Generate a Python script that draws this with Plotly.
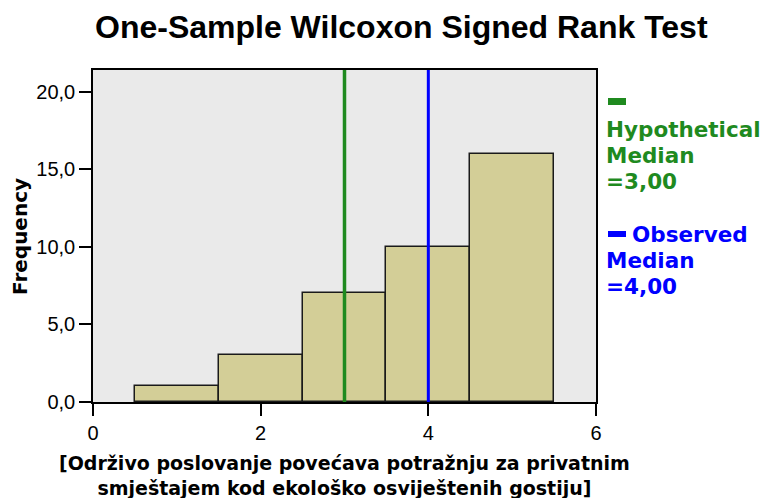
import plotly.graph_objects as go

# ---- data ----
bin_centers = [1, 2, 3, 4, 5]
frequencies = [1, 3, 7, 10, 16]
hypothetical_median = 3.00
observed_median = 4.00
y_ticks = [0, 5, 10, 15, 20]
y_tick_labels = ["0,0", "5,0", "10,0", "15,0", "20,0"]
x_ticks = [0, 2, 4, 6]
x_tick_labels = ["0", "2", "4", "6"]
title_text = "One-Sample Wilcoxon Signed Rank Test"
x_title = "[Održivo poslovanje povećava potražnju za privatnim<br>smještajem kod ekološko osviještenih gostiju]"
y_title = "Frequency"

W, H = 765, 498
L, R, T, B = 93, 169, 70, 96
Y_MAX = 21.4

def py(pix):  # pixel y -> paper y
    return (H - B - pix) / (H - T - B)

def px(pix):  # pixel x -> paper x
    return (pix - L) / (W - L - R)

GREEN = "#1F8A1F"
BLUE = "#0000FF"
BAR = "#D3CE97"

fig = go.Figure()
fig.add_trace(go.Bar(x=bin_centers, y=frequencies, width=1,
                     marker=dict(color=BAR, line=dict(color="#1a1a1a", width=1.5)),
                     showlegend=False, hoverinfo="x+y"))
fig.add_trace(go.Scatter(x=[hypothetical_median, hypothetical_median], y=[0, Y_MAX],
                         mode="lines", line=dict(color=GREEN, width=3.5), showlegend=False))
fig.add_trace(go.Scatter(x=[observed_median, observed_median], y=[0, Y_MAX],
                         mode="lines", line=dict(color=BLUE, width=3), showlegend=False))

fig.update_layout(
    width=W, height=H,
    margin=dict(l=L, r=R, t=T, b=B),
    paper_bgcolor="white", plot_bgcolor="#EAEAEA",
    font=dict(family="Liberation Sans, Arial, sans-serif", color="black"),
    xaxis=dict(range=[0, 6], tickvals=x_ticks, ticktext=x_tick_labels,
               showgrid=False, zeroline=False, showline=True, mirror=True,
               linecolor="black", linewidth=1.5, ticks="outside", ticklen=12,
               tickwidth=1.5, tickcolor="black",
               tickfont=dict(size=20, family="Liberation Sans, Arial, sans-serif")),
    yaxis=dict(range=[0, Y_MAX], tickvals=y_ticks, ticktext=y_tick_labels,
               showgrid=False, zeroline=False, showline=True, mirror=True,
               linecolor="black", linewidth=1.5, ticks="outside", ticklen=12,
               tickwidth=1.5, tickcolor="black",
               tickfont=dict(size=20, family="Liberation Sans, Arial, sans-serif")),
    bargap=0,
)

ann = []
ann.append(dict(text="<b>" + title_text + "</b>", xref="paper", yref="paper",
                x=px(401), y=py(27), xanchor="center", yanchor="middle",
                showarrow=False, font=dict(size=32, family="Liberation Sans, Arial, sans-serif")))
ann.append(dict(text="<b>" + x_title + "</b>", xref="paper", yref="paper",
                x=0.5, y=py(475), xanchor="center", yanchor="middle",
                showarrow=False, font=dict(size=19, family="DejaVu Sans, sans-serif")))
ann.append(dict(text="<b>" + y_title + "</b>", xref="paper", yref="paper",
                x=px(20), y=py(237), xanchor="center", yanchor="middle", textangle=-90,
                showarrow=False, font=dict(size=20, family="DejaVu Sans, sans-serif")))

leg_font = dict(size=21.5, family="DejaVu Sans, sans-serif")
def leg(text, xpix, ymid, color):
    ann.append(dict(text="<b>" + text + "</b>", xref="paper", yref="paper",
                    x=px(xpix), y=py(ymid), xanchor="left", yanchor="middle",
                    showarrow=False, font=dict(color=color, **leg_font)))

leg("Hypothetical", 604, 129, GREEN)
leg("Median", 604, 155, GREEN)
leg("=3,00", 604, 181, GREEN)
leg("Observed", 630, 234, BLUE)
leg("Median", 604, 260, BLUE)
leg("=4,00", 604, 286, BLUE)

fig.update_layout(annotations=ann)
fig.add_shape(type="rect", xref="paper", yref="paper",
              x0=px(608), x1=px(626), y0=py(105), y1=py(98),
              fillcolor=GREEN, line=dict(width=0))
fig.add_shape(type="rect", xref="paper", yref="paper",
              x0=px(608), x1=px(626), y0=py(237), y1=py(231),
              fillcolor=BLUE, line=dict(width=0))

fig.write_html("out.html", config={"displayModeBar": False},
               post_script="document.body.style.margin='0';")
